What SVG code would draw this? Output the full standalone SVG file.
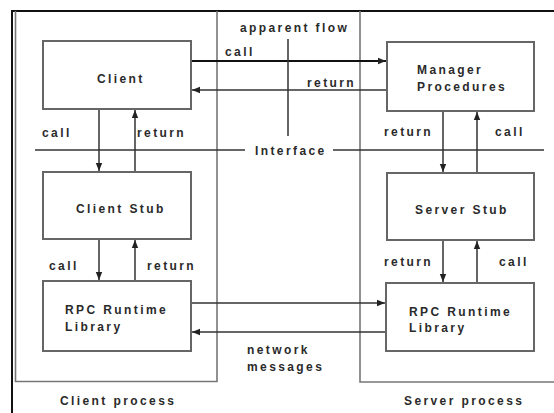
<svg xmlns="http://www.w3.org/2000/svg" width="554" height="413" viewBox="0 0 554 413">
<style>
.t{font-family:"Liberation Sans",Arial,sans-serif;font-weight:bold;font-size:12px;letter-spacing:2.4px;fill:#2a2a2a}
.box{fill:#fff;stroke:#666;stroke-width:2}
.proc{fill:none;stroke:#777;stroke-width:1.6}
.c{fill:none;stroke:#333;stroke-width:1.5}
.ck{fill:none;stroke:#111;stroke-width:2.2}
</style>
<defs>
<marker id="ah" viewBox="0 0 8 8" refX="8" refY="4" markerWidth="8" markerHeight="8" markerUnits="userSpaceOnUse" orient="auto">
<path d="M0,0.8 L8,4 L0,7.2 z" fill="#222"/>
</marker>
</defs>
<rect width="554" height="413" fill="#fff"/>
<g id="frame">
<path d="M12,413 V11 H554" fill="none" stroke="#111" stroke-width="2"/>
</g>
<g id="client-process">
<path class="proc" d="M15.5,11 V381.5 H217 V11"/>
<text class="t" x="60" y="405">Client process</text>
</g>
<g id="server-process">
<path class="proc" d="M360,11 V382 H554"/>
<text class="t" x="404" y="405">Server process</text>
</g>
<g id="client">
<rect class="box" x="43" y="41" width="148" height="68"/>
<text class="t" x="97" y="83">Client</text>
</g>
<g id="client-stub">
<rect class="box" x="43" y="172" width="148" height="67"/>
<text class="t" x="76" y="213">Client Stub</text>
</g>
<g id="client-rpc">
<rect class="box" x="43" y="281" width="148" height="70"/>
<text class="t" x="65" y="314">RPC Runtime</text>
<text class="t" x="65" y="331">Library</text>
</g>
<g id="manager">
<rect class="box" x="387" y="42" width="147" height="69"/>
<text class="t" x="417" y="74">Manager</text>
<text class="t" x="417" y="91">Procedures</text>
</g>
<g id="server-stub">
<rect class="box" x="387" y="173" width="147" height="67"/>
<text class="t" x="415" y="214">Server Stub</text>
</g>
<g id="server-rpc">
<rect class="box" x="386" y="283" width="148" height="68"/>
<text class="t" x="409" y="316">RPC Runtime</text>
<text class="t" x="409" y="332">Library</text>
</g>
<g id="connectors">
<line class="ck" x1="192" y1="61" x2="386" y2="61" marker-end="url(#ah)"/>
<line class="c" x1="386" y1="90" x2="192" y2="90" marker-end="url(#ah)"/>
<line class="c" x1="288" y1="39" x2="288" y2="136"/>
<line class="c" x1="35" y1="150" x2="245" y2="150"/>
<line class="c" x1="333" y1="150" x2="544" y2="150"/>
<line class="c" x1="99" y1="110" x2="99" y2="171" marker-end="url(#ah)"/>
<line class="c" x1="135" y1="171" x2="135" y2="110" marker-end="url(#ah)"/>
<line class="c" x1="99" y1="240" x2="99" y2="280" marker-end="url(#ah)"/>
<line class="c" x1="135" y1="280" x2="135" y2="240" marker-end="url(#ah)"/>
<line class="c" x1="443" y1="112" x2="443" y2="172" marker-end="url(#ah)"/>
<line class="c" x1="477" y1="172" x2="477" y2="112" marker-end="url(#ah)"/>
<line class="c" x1="443" y1="241" x2="443" y2="282" marker-end="url(#ah)"/>
<line class="c" x1="477" y1="282" x2="477" y2="241" marker-end="url(#ah)"/>
<line class="c" x1="192" y1="303" x2="385" y2="303" marker-end="url(#ah)"/>
<line class="c" x1="385" y1="332" x2="192" y2="332" marker-end="url(#ah)"/>
</g>
<g id="labels">
<text class="t" x="240" y="32">apparent flow</text>
<text class="t" x="225" y="56">call</text>
<text class="t" x="307" y="87">return</text>
<text class="t" x="255" y="155">Interface</text>
<text class="t" x="42" y="137">call</text>
<text class="t" x="137" y="137">return</text>
<text class="t" x="49" y="270">call</text>
<text class="t" x="147" y="270">return</text>
<text class="t" x="384" y="136">return</text>
<text class="t" x="495" y="136">call</text>
<text class="t" x="384" y="266">return</text>
<text class="t" x="499" y="266">call</text>
<text class="t" x="247" y="354">network</text>
<text class="t" x="247" y="371">messages</text>
</g>
</svg>
